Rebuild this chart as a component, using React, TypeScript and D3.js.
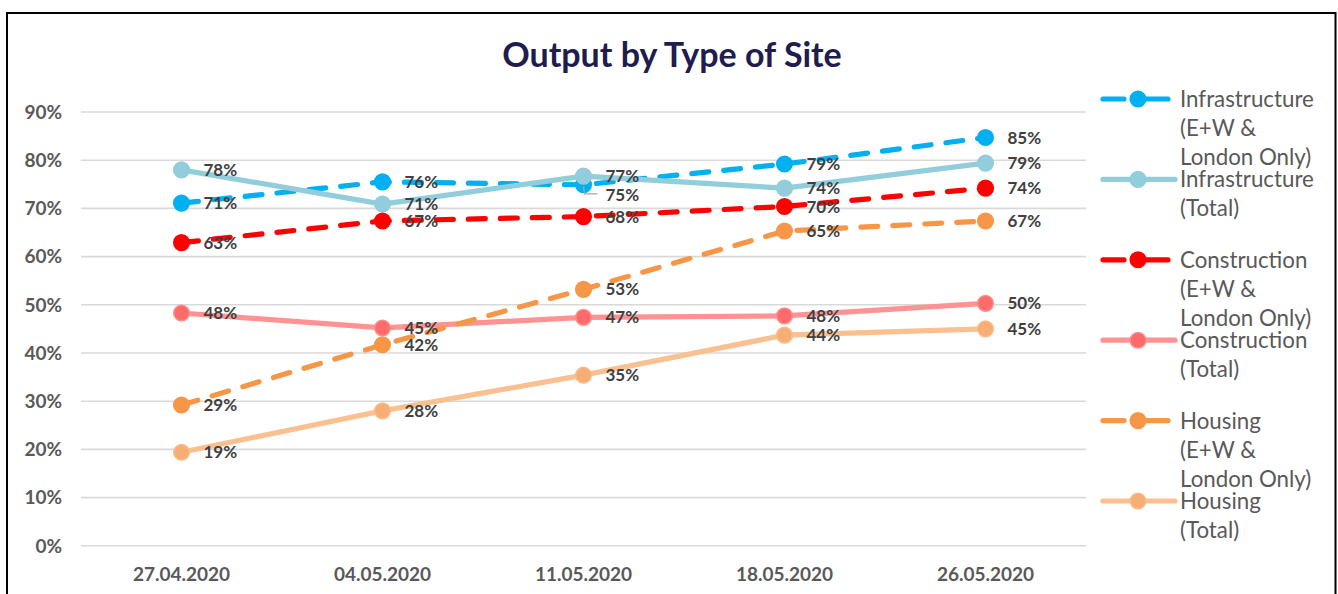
import React from "react";
import * as d3 from "d3";

const categories = ["27.04.2020", "04.05.2020", "11.05.2020", "18.05.2020", "26.05.2020"];
const yTicks = [0, 10, 20, 30, 40, 50, 60, 70, 80, 90];

const infraEW = [71.1, 75.5, 74.9, 79.2, 84.7];
const infraTotal = [78.0, 70.9, 76.7, 74.2, 79.4];
const constrEW = [62.9, 67.4, 68.3, 70.4, 74.2];
const constrTotal = [48.3, 45.2, 47.4, 47.7, 50.3];
const housingEW = [29.2, 41.7, 53.2, 65.3, 67.4];
const housingTotal = [19.4, 28.0, 35.4, 43.7, 45.0];

const seriesNames = [
  ["Infrastructure", "(E+W &", "London Only)"],
  ["Infrastructure", "(Total)"],
  ["Construction", "(E+W &", "London Only)"],
  ["Construction", "(Total)"],
  ["Housing", "(E+W &", "London Only)"],
  ["Housing", "(Total)"],
];

type S = {
  values: number[];
  color: string;
  dashed: boolean;
  markerFill: string;
  markerStroke: string;
};

const series: S[] = [
  { values: infraEW, color: "#00B0F0", dashed: true, markerFill: "#00B0F0", markerStroke: "#00B0F0" },
  { values: infraTotal, color: "#92CDDC", dashed: false, markerFill: "#92CDDC", markerStroke: "#92CDDC" },
  { values: constrEW, color: "#FF0000", dashed: true, markerFill: "#FF0000", markerStroke: "#FF0000" },
  { values: constrTotal, color: "#FF9393", dashed: false, markerFill: "#FF6A6A", markerStroke: "#FF8C8C" },
  { values: housingEW, color: "#F79646", dashed: true, markerFill: "#F79646", markerStroke: "#F79646" },
  { values: housingTotal, color: "#FAC090", dashed: false, markerFill: "#F7AE74", markerStroke: "#F9BC88" },
];

const FONT = "Lato, 'Open Sans', sans-serif";

export default function App() {
  const x = d3.scalePoint<string>().domain(categories).range([81, 1086]).padding(0.5);
  const y = d3.scaleLinear().domain([0, 90]).range([545.8, 112]);
  const line = d3
    .line<number>()
    .x((_, i) => x(categories[i]) as number)
    .y((v) => y(v));

  const legendX = 1103;
  const legendBase = 107;
  const legendStep = 80.4;

  return (
    <svg
      width={1338}
      height={594}
      style={{ position: "absolute", left: 0, top: 0, background: "#fff" }}
      fontFamily={FONT}
    >
      <rect x={7} y={13} width={1328.5} height={600} fill="#fff" stroke="#000" strokeWidth={2} />
      <text
        x={672}
        y={67}
        textAnchor="middle"
        fontSize={34}
        fontWeight={700}
        fill="#201D4E"
      >
        Output by Type of Site
      </text>

      {yTicks.map((t) => (
        <g key={t}>
          <line x1={81} x2={1086} y1={y(t)} y2={y(t)} stroke="#D9D9D9" strokeWidth={1.6} />
          <text
            x={62}
            y={y(t)}
            dy="0.36em"
            textAnchor="end"
            fontSize={19}
            fontWeight={700}
            fill="#595959"
          >
            {t}%
          </text>
        </g>
      ))}

      {categories.map((c) => (
        <text
          key={c}
          x={x(c) as number}
          y={581}
          textAnchor="middle"
          fontSize={19}
          fontWeight={700}
          fill="#595959"
        >
          {c}
        </text>
      ))}

      {series.map((s, si) => (
        <g key={si}>
          <path
            d={line(s.values) || ""}
            fill="none"
            stroke={s.color}
            strokeWidth={5.2}
            strokeLinecap="round"
            strokeLinejoin="round"
            strokeDasharray={s.dashed ? "17 15" : undefined}
          />
          {s.values.map((v, i) => (
            <circle
              key={i}
              cx={x(categories[i]) as number}
              cy={y(v)}
              r={7.8}
              fill={s.markerFill}
              stroke={s.markerStroke}
              strokeWidth={1.5}
            />
          ))}
        </g>
      ))}

      {/* leader line for the moved label */}
      <polyline
        points={`${x(categories[2])},${y(infraEW[2]) + 2} ${(x(categories[2]) as number) + 1},${y(infraEW[2]) + 9} ${(x(categories[2]) as number) + 14},${y(infraEW[2]) + 9}`}
        fill="none"
        stroke="#A6A6A6"
        strokeWidth={1.3}
      />

      {series.map((s, si) =>
        s.values.map((v, i) => {
          const moved = si === 0 && i === 2;
          return (
            <text
              key={`${si}-${i}`}
              x={(x(categories[i]) as number) + 22}
              y={y(v) + (moved ? 10 : 0)}
              dy="0.36em"
              fontSize={17}
              fontWeight={700}
              fill="#404040"
            >
              {Math.round(v)}%
            </text>
          );
        })
      )}

      {series.map((s, si) => {
        const by = legendBase + si * legendStep;
        const sy = by - 8;
        return (
          <g key={si}>
            {s.dashed ? (
              <>
                <line x1={legendX} x2={legendX + 21} y1={sy} y2={sy} stroke={s.color} strokeWidth={5.2} strokeLinecap="round" />
                <line x1={legendX + 38} x2={legendX + 65} y1={sy} y2={sy} stroke={s.color} strokeWidth={5.2} strokeLinecap="round" />
              </>
            ) : (
              <line x1={legendX} x2={legendX + 72} y1={sy} y2={sy} stroke={s.color} strokeWidth={5.2} strokeLinecap="round" />
            )}
            <circle cx={legendX + 35} cy={sy} r={7.8} fill={s.markerFill} stroke={s.markerStroke} strokeWidth={1.5} />
            {seriesNames[si].map((ln, li) => (
              <text key={li} x={1180} y={by + li * 29} fontSize={22.3} fill="#595959">
                {ln}
              </text>
            ))}
          </g>
        );
      })}
    </svg>
  );
}
